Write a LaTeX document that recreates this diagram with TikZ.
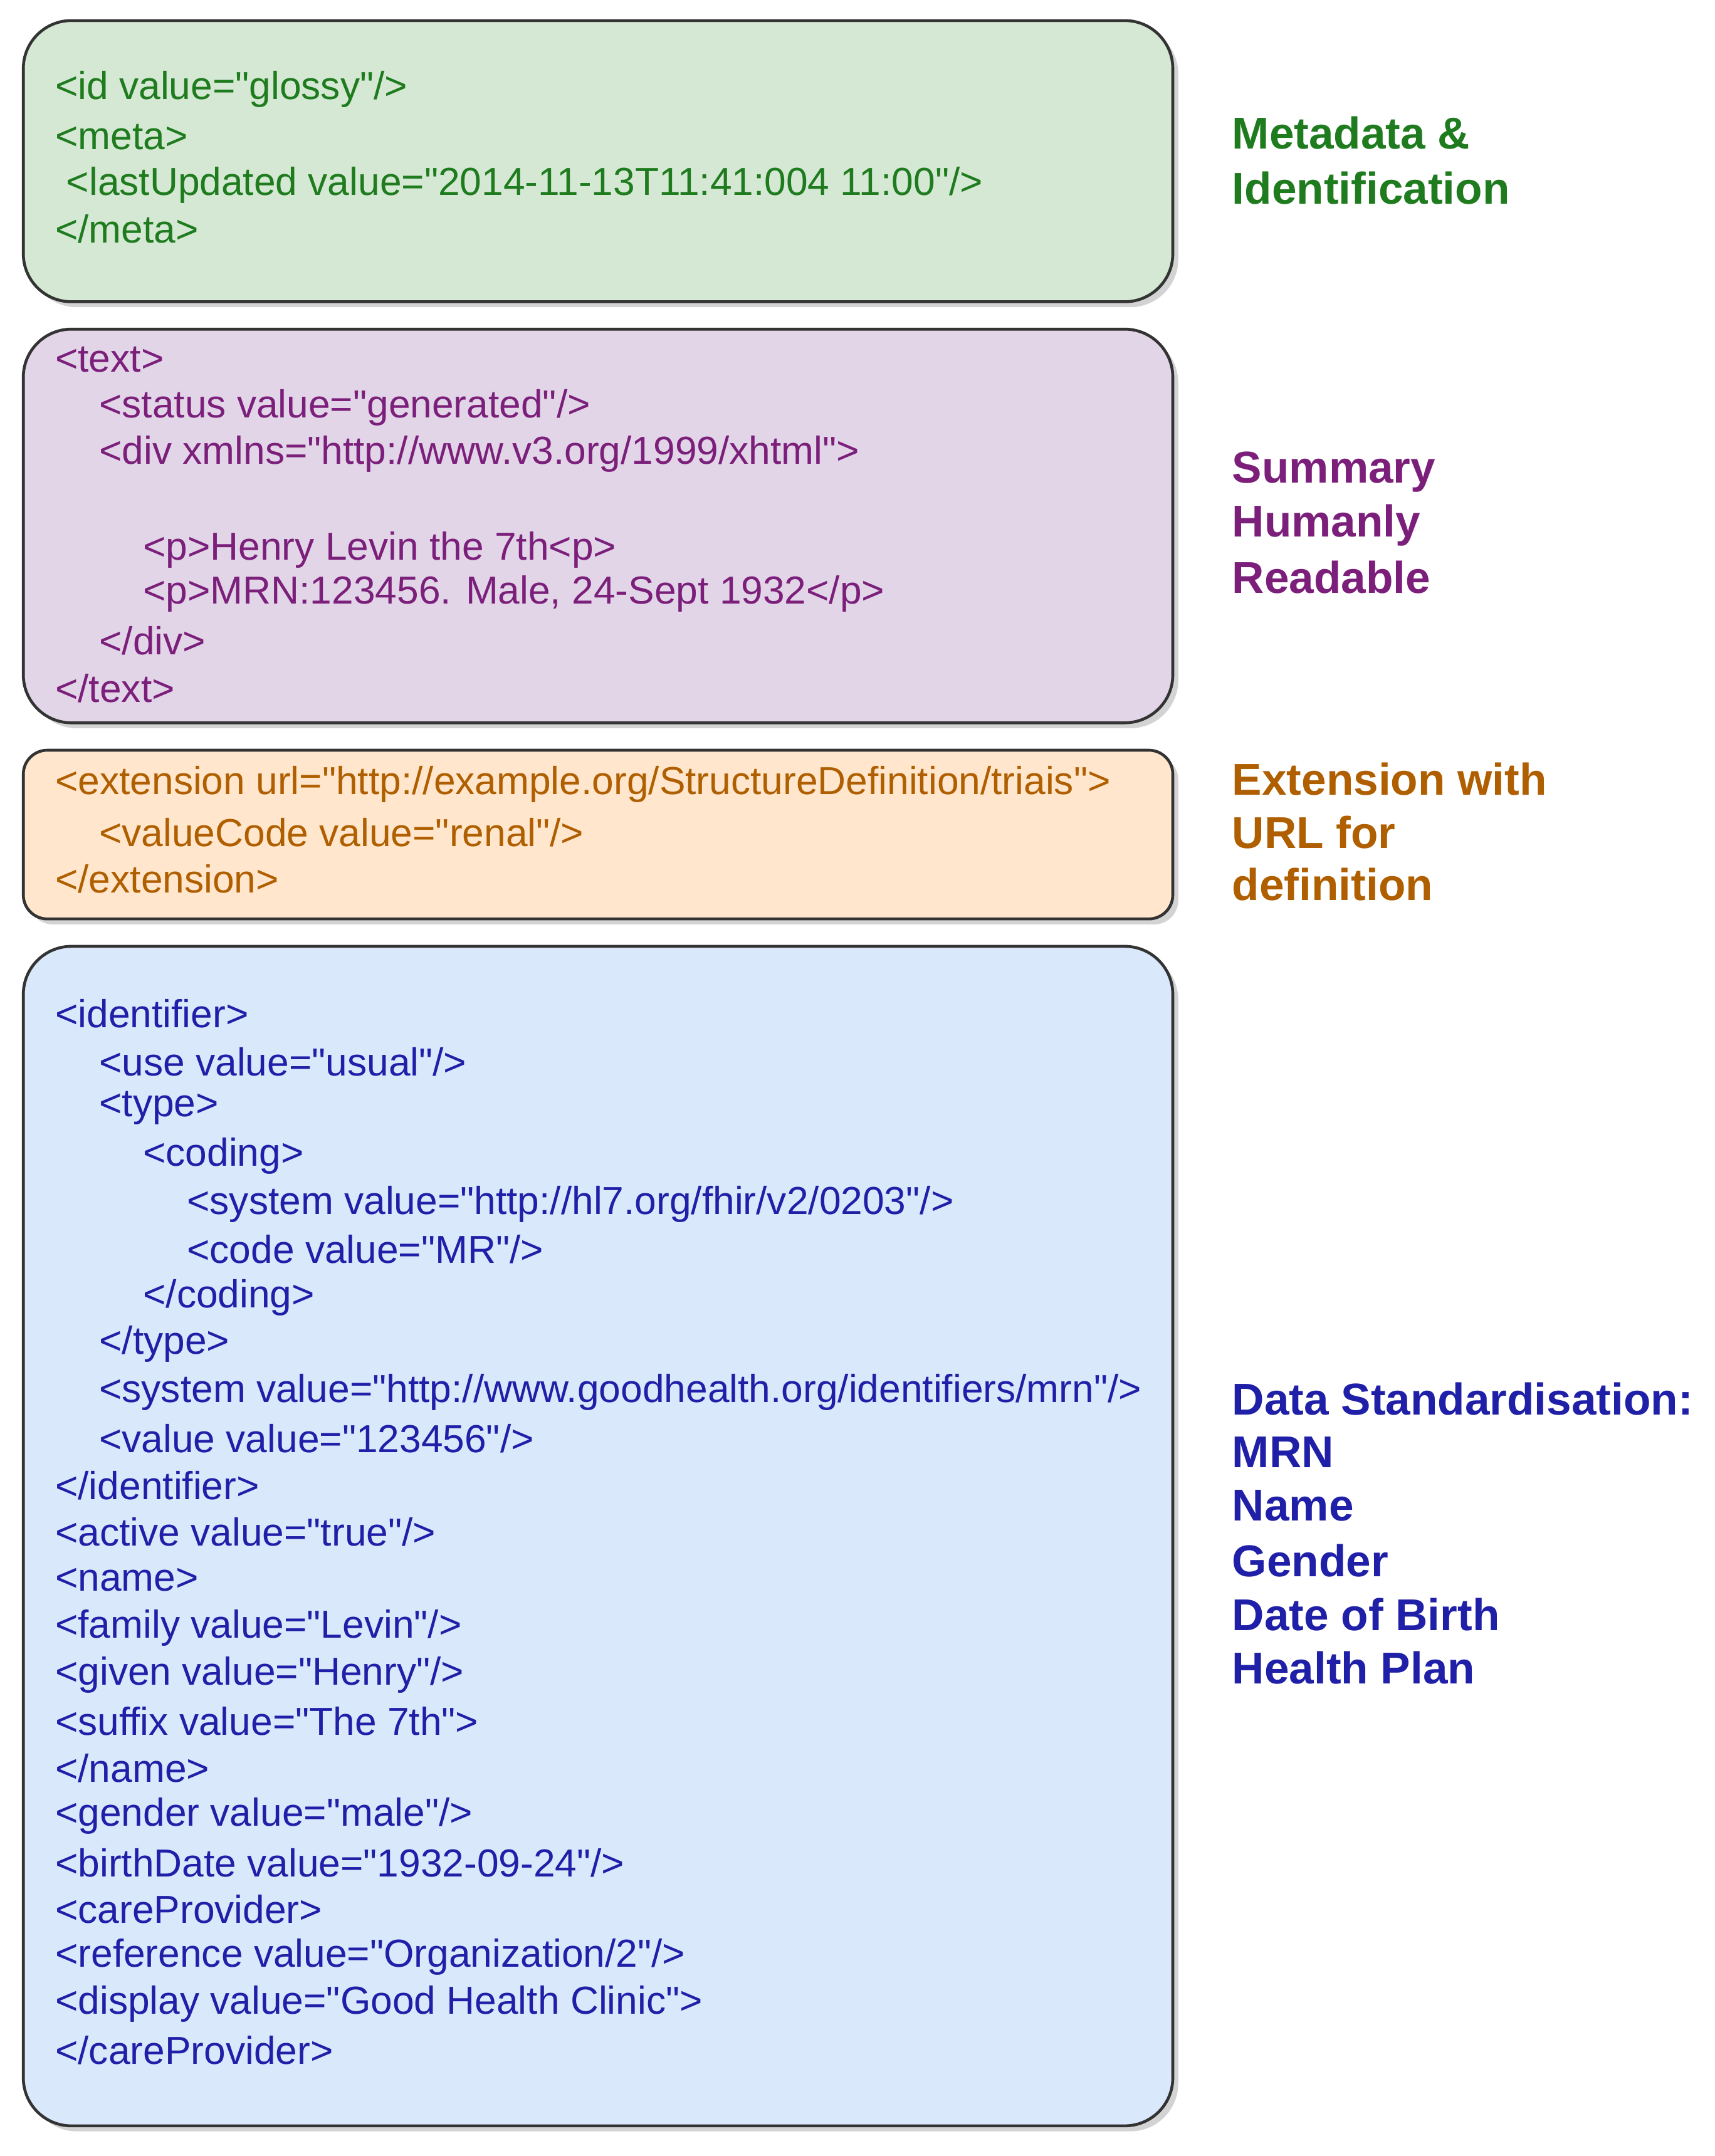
\documentclass[tikz,border=0pt]{standalone}
\usepackage{fontspec}
\setmainfont{Liberation Sans}[Ligatures=TeXOff]
\usetikzlibrary{positioning, shadows}
\definecolor{gfill}{HTML}{D5E8D4}
\definecolor{pfill}{HTML}{E1D5E7}
\definecolor{ofill}{HTML}{FFE6CC}
\definecolor{bfill}{HTML}{DAE8FC}
\definecolor{gtext}{HTML}{1E7B1E}
\definecolor{ptext}{HTML}{7B1F7B}
\definecolor{otext}{HTML}{B05F00}
\definecolor{btext}{HTML}{1F1FA8}
\tikzset{
  box/.style={draw=black!80, line width=1.2pt, rounded corners=0.7cm, drop shadow={opacity=0.35, shadow xshift=0.08cm, shadow yshift=-0.08cm}},
  code/.style={anchor=west, inner sep=0pt, font=\fontsize{16.2pt}{19pt}\selectfont},
  tag/.style={anchor=west, inner sep=0pt, font=\fontsize{18.5pt}{22pt}\selectfont\bfseries}
}
\begin{document}
\begin{tikzpicture}[x=0.02cm, y=-0.02cm]
\useasboundingbox (0,0) rectangle (1250,1572);
% boxes
\draw[box, fill=gfill] (17,15) rectangle (855,220);
\draw[box, fill=pfill] (17,240) rectangle (855,527);
\draw[box, fill=ofill, rounded corners=0.35cm] (17,547) rectangle (855,670);
\draw[box, fill=bfill] (17,690) rectangle (855,1550);
% metadata
\foreach \x/\y/\t [count=\i] in {40/65/{<id value="glossy"/>}, 40/100/{<meta>},
  48/135/{<lastUpdated value="2014-11-13T11:41:004 11:00"/>}, 40/167/{</meta>}}
  \node[code, text=gtext] (g\i) at (\x,\y) {\t};
% summary
\foreach \x/\y/\t [count=\i] in {40/262/{<text>}, 72/297/{<status value="generated"/>},
  72/331/{<div xmlns="http://www.v3.org/1999/xhtml">}, 104/401/{<p>Henry Levin the 7th<p>},
  104/433/{<p>MRN:123456. Male, 24-Sept 1932</p>}, 72/467/{</div>}, 40/502/{</text>}}
  \node[code, text=ptext] (p\i) at (\x,\y) {\t};
% extension
\foreach \x/\y/\t [count=\i] in {40/572/{<extension url="http://example.org/StructureDefinition/triais">},
  72/607/{<valueCode value="renal"/>}, 40/641/{</extension>}}
  \node[code, text=otext] (o\i) at (\x,\y) {\t};
% identifier etc.
\foreach \x/\y/\t [count=\i] in {40/739/{<identifier>}, 72/774/{<use value="usual"/>},
  72/808/{<type>}, 104/843/{<coding>}, 136/878/{<system value="http://hl7.org/fhir/v2/0203"/>},
  136/911/{<code value="MR"/>}, 104/946/{</coding>}, 72/980/{</type>},
  72/1015/{<system value="http://www.goodhealth.org/identifiers/mrn"/>},
  72/1049/{<value value="123456"/>}, 40/1083/{</identifier>}, 40/1117/{<active value="true"/>},
  40/1152/{<name>}, 40/1187/{<family value="Levin"/>}, 40/1221/{<given value="Henry"/>},
  40/1255/{<suffix value="The 7th">}, 40/1289/{</name>}, 40/1324/{<gender value="male"/>},
  40/1358/{<birthDate value="1932-09-24"/>}, 40/1392/{<careProvider>},
  40/1427/{<reference value="Organization/2"/>}, 40/1461/{<display value="Good Health Clinic">},
  40/1495/{</careProvider>}}
  \node[code, text=btext] (b\i) at (\x,\y) {\t};
% labels
\node[tag, text=gtext] (meta) at (898,97) {Metadata \&};
\node[tag, text=gtext] at (898,137) {Identification};
\node[tag, text=ptext] (summ) at (898,344) {Summary};
\node[tag, text=ptext] at (898,383) {Humanly};
\node[tag, text=ptext] at (898,421) {Readable};
\node[tag, text=otext] (ext) at (898,568) {Extension with};
\node[tag, text=otext] at (898,607) {URL for};
\node[tag, text=otext] at (898,645) {definition};
\foreach \y/\t [count=\i] in {1020/Data Standardisation:, 1059/MRN, 1098/Name,
  1138/Gender, 1177/Date of Birth, 1216/Health Plan}
  \node[tag, text=btext] (d\i) at (898,\y) {\t};
\end{tikzpicture}
\end{document}
